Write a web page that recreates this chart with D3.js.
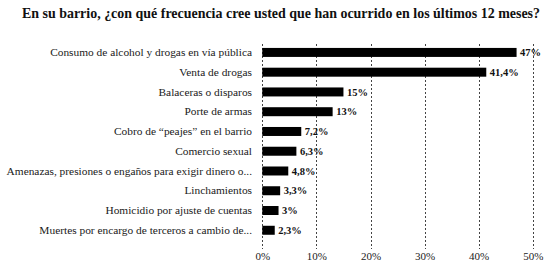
<!DOCTYPE html>
<html><head><meta charset="utf-8">
<script src="https://cdn.jsdelivr.net/npm/d3@7/dist/d3.min.js"></script>
<style>
body{margin:0;background:#fff;}
svg{display:block;}
svg text{font-family:"Liberation Serif","Times New Roman",serif !important;}
</style>
</head><body>
<svg id="c" width="558" height="268"></svg>
<script>
const categories = [
  "Consumo de alcohol y drogas en vía pública",
  "Venta de drogas",
  "Balaceras o disparos",
  "Porte de armas",
  "Cobro de “peajes” en el barrio",
  "Comercio sexual",
  "Amenazas, presiones o engaños para exigir dinero o...",
  "Linchamientos",
  "Homicidio por ajuste de cuentas",
  "Muertes por encargo de terceros a cambio de..."
];
const values = [47, 41.4, 15, 13, 7.2, 6.3, 4.8, 3.3, 3, 2.3];
const valueLabels = ["47%", "41,4%", "15%", "13%", "7,2%", "6,3%", "4,8%", "3,3%", "3%", "2,3%"];
const tickValues = [0, 10, 20, 30, 40, 50];
const title = "En su barrio, ¿con qué frecuencia cree usted que han ocurrido en los últimos 12 meses?";

const svg = d3.select("#c");
const x = d3.scaleLinear().domain([0, 50]).range([262.3, 532.8]);
const y = d3.scaleBand().domain(categories).range([42.6, 240.1]).paddingInner(0.545).paddingOuter(0.27);

const t = svg.append("text").attr("x", 281).attr("y", 18).attr("text-anchor", "middle")
  .attr("font-weight", "bold").attr("font-size", 13.4)
  .attr("fill", "#111").text(title);
const tw = t.node().getComputedTextLength();
t.attr("font-size", 13.4 * 518 / tw);

// grid
svg.append("g").selectAll("line").data(tickValues).join("line")
  .attr("x1", d => Math.round(x(d)) + 0.5).attr("x2", d => Math.round(x(d)) + 0.5)
  .attr("y1", 44).attr("y2", 249)
  .attr("stroke", "#444").attr("stroke-width", 1).attr("stroke-dasharray", "2,2");

// x axis labels
const xAxis = d3.axisBottom(x).tickValues(tickValues).tickSize(0).tickFormat(d => d + "%");
const gx = svg.append("g").attr("transform", "translate(0,250)").call(xAxis);
gx.select(".domain").remove();
gx.selectAll("text").attr("font-size", 11).attr("fill", "#222").attr("dy", "0.6em");

// y labels
const yAxis = d3.axisLeft(y).tickSize(0).tickPadding(0);
const gy = svg.append("g").attr("transform", "translate(252,0)").call(yAxis);
gy.select(".domain").remove();
const ly = gy.selectAll("text").attr("font-size", 12).attr("fill", "#1a1a1a");
const lw = ly.nodes()[0].getComputedTextLength();
ly.attr("font-size", 12 * 202 / lw);

// bars
svg.append("g").selectAll("rect").data(values).join("rect")
  .attr("x", x(0)).attr("y", (d, i) => y(categories[i]))
  .attr("width", d => x(d) - x(0)).attr("height", y.bandwidth())
  .attr("fill", "#000");

svg.append("g").selectAll("text").data(values).join("text")
  .attr("x", d => x(d) + 3.5).attr("y", (d, i) => y(categories[i]) + y.bandwidth() / 2)
  .attr("dy", "0.35em")
  .attr("font-weight", "bold").attr("font-size", 10.5).attr("fill", "#111")
  .text((d, i) => valueLabels[i]);
</script>
</body></html>
